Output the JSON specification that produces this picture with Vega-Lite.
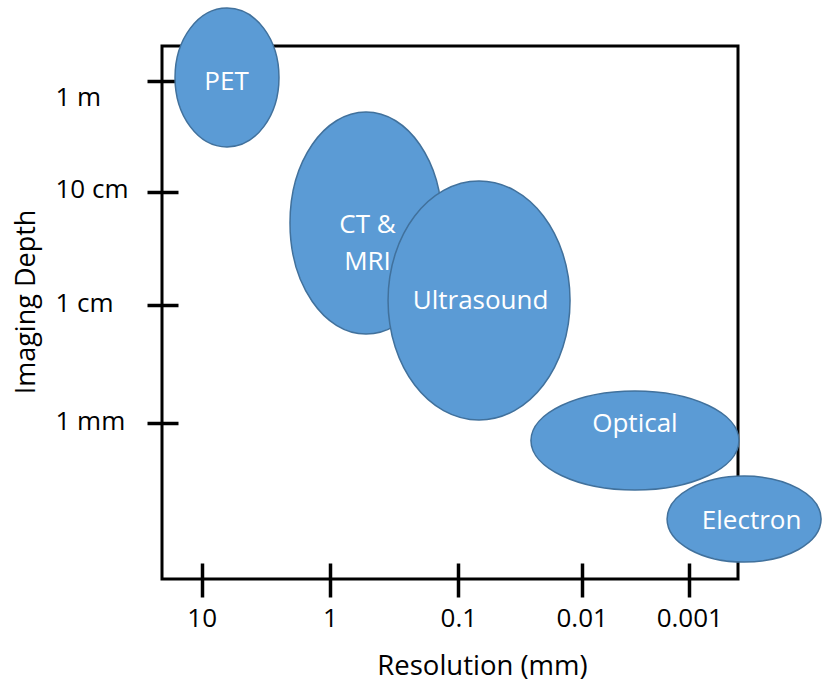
{
  "$schema": "https://vega.github.io/schema/vega-lite/v6.json",
  "autosize": "none",
  "padding": {"left": 162, "top": 46, "right": 84, "bottom": 104},
  "width": 576,
  "height": 533,
  "background": "white",
  "config": {
    "view": {"stroke": "black", "strokeWidth": 3},
    "font": "Open Sans",
    "axis": {"domain": false, "grid": false, "tickColor": "black", "tickWidth": 3.5, "labelColor": "black", "labelFont": "Open Sans", "labelFontSize": 26, "titleColor": "black", "titleFont": "Open Sans", "titleFontSize": 27, "titleFontWeight": "normal", "labelOverlap": false, "labelFlush": false, "labelBound": false}
  },
  "data": {"values": [
    {"name": "PET", "res": 6.35, "depth": 1069, "label": "PET", "lres": 6.4, "ldepth": 983},
    {"name": "CT", "res": 0.524, "depth": 52.9, "label": "CT &\nMRI", "lres": 0.51, "ldepth": 50.8},
    {"name": "Ultrasound", "res": 0.0679, "depth": 10.96, "label": "Ultrasound", "lres": 0.066, "ldepth": 10.74},
    {"name": "Optical", "res": 0.0032, "depth": 0.716, "label": "Optical", "lres": 0.0032, "ldepth": 0.98},
    {"name": "Electron", "res": 0.00031, "depth": 0.155, "label": "Electron", "lres": 0.000264, "ldepth": 0.15}
  ]},
  "encoding": {
    "x": {"field": "res", "type": "quantitative", "title": "Resolution (mm)",
      "scale": {"type": "log", "nice": false, "zero": false, "domain": [20.4, 10, 1, 0.1, 0.01, 0.001, 0.000353], "range": [0, 39.7, 168, 296.3, 419.7, 527.3, 576]},
      "axis": {"orient": "bottom", "values": [10, 1, 0.1, 0.01, 0.001], "format": "~g", "offset": -16, "tickSize": 34, "labelPadding": 8, "labelBaseline": "top", "title": "Resolution (mm)", "titleFontSize": 27.5, "titleX": 320, "titleY": 111, "titleAlign": "center", "titleBaseline": "alphabetic"}},
    "y": {"field": "depth", "type": "quantitative", "title": "Imaging Depth",
      "scale": {"type": "log", "nice": false, "zero": false, "domain": [0.0483, 1, 10, 100, 1000, 2054], "range": [533, 377.3, 259, 145.7, 34.7, 0]},
      "axis": {"orient": "left", "values": [1, 10, 100, 1000], "labelExpr": "datum.value == 1 ? '1 mm' : datum.value == 10 ? '1 cm' : datum.value == 100 ? '10 cm' : '1 m'", "offset": -16, "tickSize": 31, "labelPadding": 92, "labelAlign": "left", "labelBaseline": "middle", "labelOffset": {"condition": {"test": "datum.value == 1000", "value": 17}, "value": -2}, "title": "Imaging Depth", "titleAngle": -90, "titleX": -144, "titleY": 255.5, "titleAlign": "center", "titleBaseline": "alphabetic"}}
  },
  "layer": [
    {"transform": [{"filter": "datum.name == 'PET'"}],
     "mark": {"type": "point", "filled": true, "fill": "#5B9BD5", "stroke": "#41719C", "strokeWidth": 1.5, "opacity": 1, "fillOpacity": 1, "size": 19321,
       "shape": "M -0.748 0 C -0.748 -0.5523 -0.4131 -1 0 -1 C 0.4131 -1 0.748 -0.5523 0.748 0 C 0.748 0.5523 0.4131 1 0 1 C -0.4131 1 -0.748 0.5523 -0.748 0 Z"}},
    {"transform": [{"filter": "datum.name == 'CT'"}],
     "mark": {"type": "point", "filled": true, "fill": "#5B9BD5", "stroke": "#41719C", "strokeWidth": 1.5, "opacity": 1, "fillOpacity": 1, "size": 49284,
       "shape": "M -0.6847 0 C -0.6847 -0.5523 -0.3782 -1 0 -1 C 0.3782 -1 0.6847 -0.5523 0.6847 0 C 0.6847 0.5523 0.3782 1 0 1 C -0.3782 1 -0.6847 0.5523 -0.6847 0 Z"}},
    {"transform": [{"filter": "datum.name == 'Ultrasound'"}],
     "mark": {"type": "point", "filled": true, "fill": "#5B9BD5", "stroke": "#41719C", "strokeWidth": 1.5, "opacity": 1, "fillOpacity": 1, "size": 57121,
       "shape": "M -0.7615 0 C -0.7615 -0.5523 -0.4206 -1 0 -1 C 0.4206 -1 0.7615 -0.5523 0.7615 0 C 0.7615 0.5523 0.4206 1 0 1 C -0.4206 1 -0.7615 0.5523 -0.7615 0 Z"}},
    {"transform": [{"filter": "datum.name == 'Optical'"}],
     "mark": {"type": "point", "filled": true, "fill": "#5B9BD5", "stroke": "#41719C", "strokeWidth": 1.5, "opacity": 1, "fillOpacity": 1, "size": 43264,
       "shape": "M -1 0 C -1 -0.2629 -0.5523 -0.476 0 -0.476 C 0.5523 -0.476 1 -0.2629 1 0 C 1 0.2629 0.5523 0.476 0 0.476 C -0.5523 0.476 -1 0.2629 -1 0 Z"}},
    {"transform": [{"filter": "datum.name == 'Electron'"}],
     "mark": {"type": "point", "filled": true, "fill": "#5B9BD5", "stroke": "#41719C", "strokeWidth": 1.5, "opacity": 1, "fillOpacity": 1, "size": 23716,
       "shape": "M -1 0 C -1 -0.3084 -0.5523 -0.5584 0 -0.5584 C 0.5523 -0.5584 1 -0.3084 1 0 C 1 0.3084 0.5523 0.5584 0 0.5584 C -0.5523 0.5584 -1 0.3084 -1 0 Z"}},
    {"mark": {"type": "text", "color": "white", "font": "Open Sans", "fontSize": 26, "align": "center", "baseline": "middle", "lineBreak": "\n", "lineHeight": 37},
     "encoding": {
       "x": {"field": "lres", "type": "quantitative", "title": "Resolution (mm)"},
       "y": {"field": "ldepth", "type": "quantitative", "title": "Imaging Depth"},
       "text": {"field": "label", "type": "nominal"}
     }}
  ]
}
